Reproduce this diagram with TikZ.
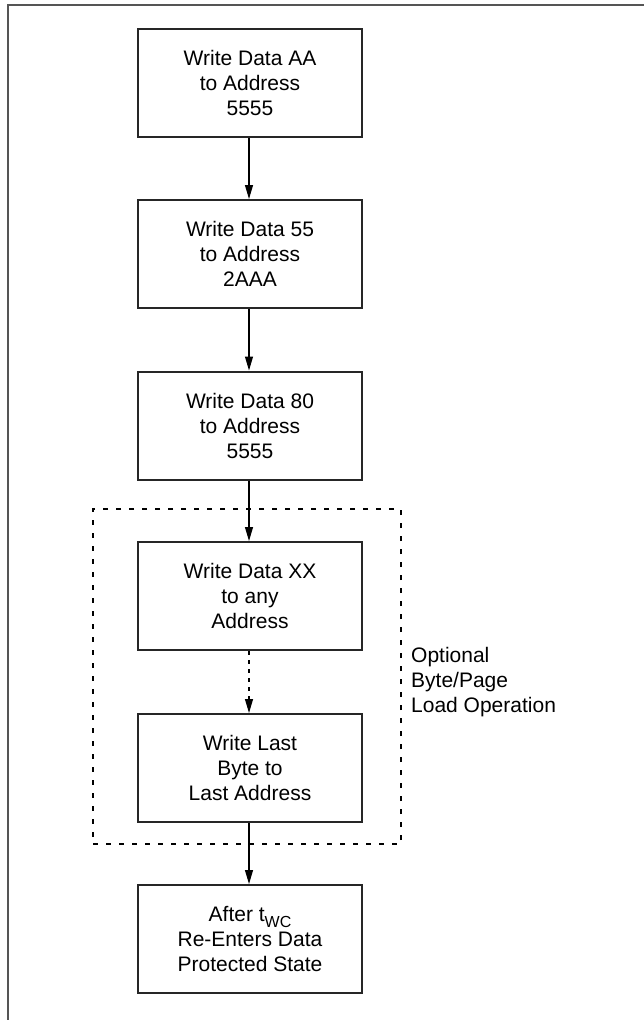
\documentclass[tikz,border=0pt]{standalone}
\usepackage{fontspec}
\setmainfont{Liberation Sans}
\usetikzlibrary{arrows.meta}
\definecolor{framegray}{HTML}{555555}
\definecolor{boxline}{HTML}{262626}
\tikzset{
  stepbox/.style={draw=boxline, line width=2pt, minimum width=224pt, minimum height=108pt,
    inner sep=0pt, align=center, font=\fontsize{21}{25}\selectfont},
  flow/.style={draw=black, line width=1.1pt, -{Triangle[length=14pt,width=8pt]}},
  dflow/.style={flow, dash pattern=on 4pt off 5pt},
  optbox/.style={draw=black, line width=1.1pt, dash pattern=on 5pt off 8pt,
    minimum width=308pt, minimum height=335pt, inner sep=0pt},
  sidelabel/.style={align=left, anchor=west, inner sep=0pt, font=\fontsize{21}{25}\selectfont}
}
\begin{document}
\begin{tikzpicture}[x=1pt,y=1pt]
\useasboundingbox (0,0) rectangle (644,-1020);
% frame (top and left edges)
\coordinate (fbl) at (7.5,-1020);
\coordinate (ftl) at (7.5,-5);
\coordinate (ftr) at (644,-5);
\draw[framegray, line width=2pt] (fbl) -- (ftl) -- (ftr);
% optional region
\node[optbox] (opt) at (247,-676.5) {};
\node[sidelabel] (optlabel) at (411,-682) {Optional\\Byte/Page\\Load Operation};
% boxes
\node[stepbox] (b1) at (250,-83) {Write Data AA\\to Address\\5555};
\node[stepbox] (b2) at (250,-254) {Write Data 55\\to Address\\2AAA};
\node[stepbox] (b3) at (250,-425.5) {Write Data 80\\to Address\\5555};
\node[stepbox] (b4) at (250,-596) {Write Data XX\\to any\\Address};
\node[stepbox] (b5) at (250,-768) {Write Last\\Byte to\\Last Address};
\node[stepbox] (b6) at (250,-939) {After t\raisebox{-0.3em}{\fontsize{16}{16}\selectfont WC}\\Re-Enters Data\\Protected State};
% connectors
\draw[flow] ([xshift=-1pt]b1.south) -- ([xshift=-1pt]b2.north);
\draw[flow] ([xshift=-1pt]b2.south) -- ([xshift=-1pt]b3.north);
\draw[flow] ([xshift=-1pt]b3.south) -- ([xshift=-1pt]b4.north);
\draw[dflow] ([xshift=-1pt]b4.south) -- ([xshift=-1pt]b5.north);
\draw[flow] ([xshift=-1pt]b5.south) -- ([xshift=-1pt]b6.north);
\end{tikzpicture}
\end{document}
